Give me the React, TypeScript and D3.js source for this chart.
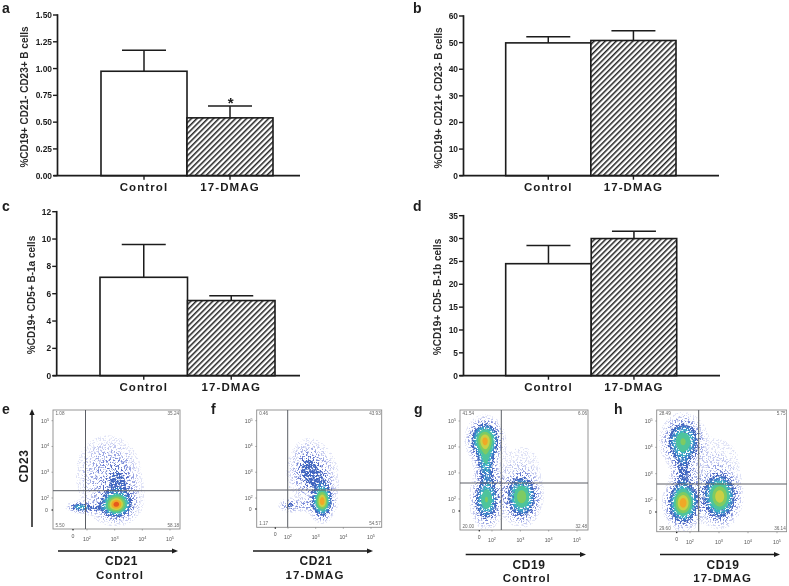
import React from "react";
import * as d3 from "d3";

const barCategories = ["Control", "17-DMAG"];

const aTicks = [0, 0.25, 0.5, 0.75, 1, 1.25, 1.5];
const aValues = [0.975, 0.54];
const aErrorTops = [1.17, 0.65];

const bTicks = [0, 10, 20, 30, 40, 50, 60];
const bValues = [49.9, 50.8];
const bErrorTops = [52.2, 54.5];

const cTicks = [0, 2, 4, 6, 8, 10, 12];
const cValues = [7.2, 5.5];
const cErrorTops = [9.6, 5.85];

const dTicks = [0, 5, 10, 15, 20, 25, 30, 35];
const dValues = [24.5, 30];
const dErrorTops = [28.5, 31.6];

// [x decade, y decade, sd x, sd y, peak density]
type Blob = number[];
const eBlobs: Blob[] = [
  [3.06, 1.75, 0.26, 0.24, 0.85],
  [1.75, 1.65, 0.2, 0.09, 0.34],
  [2.35, 1.6, 0.42, 0.1, 0.1],
  [2.75, 3.0, 0.58, 0.72, 0.085],
  [3.2, 2.5, 0.3, 0.55, 0.1],
  [3.0, 1.9, 0.55, 0.5, 0.06],
];
const fBlobs: Blob[] = [
  [3.24, 1.88, 0.17, 0.3, 0.8],
  [2.7, 1.72, 0.5, 0.12, 0.07],
  [2.05, 1.7, 0.15, 0.12, 0.13],
  [2.72, 3.1, 0.28, 0.48, 0.15],
  [3.2, 2.5, 0.25, 0.5, 0.1],
  [2.9, 2.9, 0.55, 0.75, 0.04],
];
const gBlobs: Blob[] = [
  [1.75, 4.27, 0.25, 0.34, 0.78],
  [1.78, 3.5, 0.17, 0.4, 0.36],
  [1.8, 1.96, 0.22, 0.42, 0.52],
  [3.05, 2.08, 0.27, 0.42, 0.6],
  [1.85, 2.8, 0.2, 0.35, 0.09],
  [2.4, 2.4, 0.45, 0.6, 0.035],
  [3.1, 3.2, 0.5, 0.7, 0.022],
];
const hBlobs: Blob[] = [
  [1.76, 4.24, 0.3, 0.4, 0.52],
  [1.76, 3.15, 0.2, 0.55, 0.16],
  [1.76, 1.88, 0.25, 0.38, 0.85],
  [3.03, 2.13, 0.28, 0.43, 0.75],
  [2.4, 2.3, 0.4, 0.6, 0.04],
  [2.9, 3.4, 0.6, 0.7, 0.028],
];

const eQuadrants = ["1.08", "35.24", "5.50", "58.18"];
const fQuadrants = ["0.46", "43.93", "1.17", "54.57"];
const gQuadrants = ["41.54", "6.06", "20.00", "32.48"];
const hQuadrants = ["28.49", "5.75", "29.60", "36.14"];

const decadeTicks = [2, 3, 4, 5];
const densityLevels = [0.012, 0.025, 0.045, 0.07, 0.1, 0.14, 0.2, 0.28, 0.38, 0.52, 0.66, 0.78, 0.9];
const densityColors = ["#dfe2f6", "#c0c6ee", "#98a4e2", "#7486d6", "#4f68c4", "#3f66c0", "#3a86c8", "#3cb0c4", "#4ec49c", "#7ecb62", "#cbd044", "#f0a828", "#e6581e"];

const FONT = "'Liberation Sans', Arial, sans-serif";
const INK = "#1c1c1c";

type BarProps = {
  letter: string; lx: number; ly: number; title: string; ticks: number[]; values: number[]; tops: number[];
  axisX: number; top: number; zero: number; b0: number; b2: number; end: number; titleX: number; titleY: number; fmt: (d: number) => string;
};

function BarPanel(p: BarProps) {
  const y = d3.scaleLinear().domain([p.ticks[0], p.ticks[p.ticks.length - 1]]).range([p.zero, p.top]);
  const x = d3.scaleBand<string>().domain(barCategories).range([p.b0, p.b2]);
  const bw = x.bandwidth();
  return (
    <g fontFamily={FONT} fill={INK}>
      <text x={p.lx} y={p.ly} fontSize={14} fontWeight="bold">{p.letter}</text>
      {barCategories.map((c, i) => {
        const bx = x(c)!;
        const cx = bx + bw / 2;
        return (
          <g key={c}>
            <line x1={cx} x2={cx} y1={y(p.values[i])} y2={y(p.tops[i])} stroke={INK} strokeWidth={1.5} />
            <line x1={cx - 22} x2={cx + 22} y1={y(p.tops[i])} y2={y(p.tops[i])} stroke={INK} strokeWidth={1.5} />
            <rect x={bx} y={y(p.values[i])} width={bw} height={p.zero - y(p.values[i])} fill={i === 0 ? "#fff" : "url(#hatch)"} stroke={INK} strokeWidth={1.6} />
            <line x1={cx} x2={cx} y1={p.zero} y2={p.zero + 4} stroke={INK} strokeWidth={1.4} />
            <text x={cx} y={p.zero + 15} fontSize={11.5} fontWeight="bold" letterSpacing={1.1} textAnchor="middle">{c}</text>
          </g>
        );
      })}
      <line x1={p.axisX} x2={p.axisX} y1={p.top - 0.8} y2={p.zero} stroke={INK} strokeWidth={1.7} />
      <line x1={p.axisX - 4} x2={p.end} y1={p.zero} y2={p.zero} stroke={INK} strokeWidth={1.7} />
      {p.ticks.map((t) => (
        <g key={t}>
          <line x1={p.axisX - 4.5} x2={p.axisX} y1={y(t)} y2={y(t)} stroke={INK} strokeWidth={1.4} />
          <text x={p.axisX - 5.5} y={y(t) + 3} fontSize={8.4} fontWeight="bold" textAnchor="end">{p.fmt(t)}</text>
        </g>
      ))}
      <text transform={`translate(${p.titleX},${p.titleY}) rotate(-90)`} fontSize={10} fontWeight="bold" textAnchor="middle" fill="#2a2a2a">{p.title}</text>
    </g>
  );
}

type FlowProps = {
  letter: string; lx: number; blobs: Blob[]; quads: string[]; box: number[]; gate: number[];
  xRef: number[]; yRef: number[]; zeroX: number; zeroY: number; marker: string; cond: string;
  arrowY: number; arrowX: number[]; lab1: number[]; lab2: number[];
};

function FlowPanel(p: FlowProps) {
  const [x0, x1, y0, y1] = p.box;
  const xs = d3.scaleLinear().domain([2, 5]).range(p.xRef);
  const ys = d3.scaleLinear().domain([2, 5]).range(p.yRef);
  const w = Math.round(x1 - x0), h = Math.round(y1 - y0);
  const grid = new Float64Array(w * h);
  for (let j = 0; j < h; j++) {
    const dy = ys.invert(y0 + j + 0.5);
    for (let i = 0; i < w; i++) {
      const dx = xs.invert(x0 + i + 0.5);
      let v = 0;
      for (const [bx, by, sx, sy, a] of p.blobs) {
        v += a * Math.exp(-0.5 * (((dx - bx) / sx) ** 2 + ((dy - by) / sy) ** 2));
      }
      grid[j * w + i] = v;
    }
  }
  const contours = d3.contours().size([w, h]).thresholds(densityLevels)(Array.from(grid));
  const path = d3.geoPath();
  const q = { fontSize: 4.6, fill: "#666" };
  const layer = (from: number, to: number) =>
    contours.slice(from, to).map((c, i) => <path key={i} d={path(c as any) ?? ""} fill={densityColors[i + from]} />);
  return (
    <g fontFamily={FONT}>
      <text x={p.lx} y={414} fontSize={14} fontWeight="bold" fill={INK}>{p.letter}</text>
      <rect x={x0} y={y0} width={x1 - x0} height={y1 - y0} fill="#fff" />
      <g transform={`translate(${x0},${y0})`}>
        <g filter="url(#speckle)">{layer(0, 5)}</g>
        <g filter="url(#speckle2)">{layer(5, 8)}</g>
        {layer(8, densityLevels.length)}
      </g>
      <rect x={x0} y={y0} width={x1 - x0} height={y1 - y0} fill="none" stroke="#8a8a8a" strokeWidth={0.9} />
      <line x1={p.gate[0]} x2={p.gate[0]} y1={y0} y2={y1} stroke="#5c5f66" strokeWidth={1} />
      <line x1={x0} x2={x1} y1={p.gate[1]} y2={p.gate[1]} stroke="#5c5f66" strokeWidth={1} />
      <text x={x0 + 2.5} y={y0 + 4.5} {...q}>{p.quads[0]}</text>
      <text x={x1 - 1} y={y0 + 4.5} textAnchor="end" {...q}>{p.quads[1]}</text>
      <text x={x0 + 2.5} y={y1 - 2} {...q}>{p.quads[2]}</text>
      <text x={x1 - 1} y={y1 - 2} textAnchor="end" {...q}>{p.quads[3]}</text>
      {decadeTicks.map((t) => (
        <g key={t} fill="#555">
          <line x1={xs(t)} x2={xs(t)} y1={y1} y2={y1 + 1.5} stroke="#777" strokeWidth={0.6} />
          <line x1={x0 - 1.5} x2={x0} y1={ys(t)} y2={ys(t)} stroke="#777" strokeWidth={0.6} />
          <text x={xs(t)} y={y1 + 12} fontSize={5.2} textAnchor="middle">10<tspan dy={-2} fontSize={3.8}>{t}</tspan></text>
          <text x={x0 - 4} y={ys(t) + 2} fontSize={5.2} textAnchor="end">10<tspan dy={-2} fontSize={3.8}>{t}</tspan></text>
        </g>
      ))}
      <circle cx={p.zeroX} cy={y1 + 0.8} r={0.8} fill="#222" />
      <circle cx={x0 - 0.8} cy={p.zeroY} r={0.8} fill="#222" />
      <text x={p.zeroX} y={y1 + 9} fontSize={5.2} textAnchor="middle" fill="#555">0</text>
      <text x={x0 - 5} y={p.zeroY + 2} fontSize={5.2} textAnchor="end" fill="#555">0</text>
      <line x1={p.arrowX[0]} x2={p.arrowX[1] - 4} y1={p.arrowY} y2={p.arrowY} stroke={INK} strokeWidth={1.5} />
      <path d={`M${p.arrowX[1]},${p.arrowY} l-6,-2.6 v5.2 z`} fill={INK} />
      <text x={p.lab1[0]} y={p.lab1[1]} fontSize={12} fontWeight="bold" letterSpacing={0.6} textAnchor="middle" fill={INK}>{p.marker}</text>
      <text x={p.lab2[0]} y={p.lab2[1]} fontSize={11.5} fontWeight="bold" letterSpacing={1} textAnchor="middle" fill={INK}>{p.cond}</text>
    </g>
  );
}

export default function App() {
  const f2 = d3.format(".2f");
  const f0 = d3.format("d");
  return (
    <svg width={789} height={586} style={{ position: "absolute", left: 0, top: 0, background: "#fff" }}>
      <defs>
        <pattern id="hatch" width={3.9} height={3.9} patternUnits="userSpaceOnUse" patternTransform="rotate(45)">
          <rect width={3.9} height={3.9} fill="#fff" />
          <rect width={1.5} height={3.9} fill="#222" />
        </pattern>
        <filter id="speckle" x="-5%" y="-5%" width="110%" height="110%">
          <feTurbulence type="fractalNoise" baseFrequency={0.6} numOctaves={2} seed={4} result="n" />
          <feColorMatrix in="n" type="matrix" values="0 0 0 0 0  0 0 0 0 0  0 0 0 0 0  9 0 0 0 -4.6" result="m" />
          <feComposite in="SourceGraphic" in2="m" operator="in" />
        </filter>
        <filter id="speckle2" x="-5%" y="-5%" width="110%" height="110%">
          <feTurbulence type="fractalNoise" baseFrequency={0.55} numOctaves={2} seed={11} result="n" />
          <feColorMatrix in="n" type="matrix" values="0 0 0 0 0  0 0 0 0 0  0 0 0 0 0  8 0 0 0 -3.2" result="m" />
          <feComposite in="SourceGraphic" in2="m" operator="in" />
        </filter>
        <filter id="soft" x="0" y="0" width="100%" height="100%">
          <feGaussianBlur stdDeviation={0.4} />
        </filter>
      </defs>
      <rect width={789} height={586} fill="#fff" />
      <g filter="url(#soft)">
        <BarPanel letter="a" lx={2} ly={13} title="%CD19+ CD21- CD23+ B cells" ticks={aTicks} values={aValues} tops={aErrorTops} axisX={57.5} top={15} zero={175.7} b0={101} b2={273} end={300} titleX={28} titleY={97} fmt={f2} />
        <BarPanel letter="b" lx={413} ly={13} title="%CD19+ CD21+ CD23-  B cells" ticks={bTicks} values={bValues} tops={bErrorTops} axisX={463.5} top={16} zero={175.7} b0={505.7} b2={676} end={719} titleX={442} titleY={98} fmt={f0} />
        <BarPanel letter="c" lx={2} ly={211} title="%CD19+ CD5+ B-1a cells" ticks={cTicks} values={cValues} tops={cErrorTops} axisX={56.7} top={211.7} zero={375.7} b0={100} b2={275} end={300} titleX={35} titleY={295} fmt={f0} />
        <BarPanel letter="d" lx={413} ly={211} title="%CD19+ CD5- B-1b cells" ticks={dTicks} values={dValues} tops={dErrorTops} axisX={463.5} top={215.7} zero={375.7} b0={505.7} b2={676.7} end={720} titleX={441} titleY={297} fmt={f0} />
        <text x={230.7} y={108} fontFamily={FONT} fontSize={15} fontWeight="bold" fill={INK} textAnchor="middle">*</text>

        <FlowPanel letter="e" lx={2} blobs={eBlobs} quads={eQuadrants} box={[53, 180, 410, 529]} gate={[85.5, 490.7]} xRef={[87, 170]} yRef={[498, 420.7]} zeroX={73} zeroY={510} marker="CD21" cond="Control" arrowY={551} arrowX={[58, 178]} lab1={[121.5, 565]} lab2={[120, 578.5]} />
        <FlowPanel letter="f" lx={211} blobs={fBlobs} quads={fQuadrants} box={[256.7, 381.7, 410, 527.3]} gate={[287.7, 490]} xRef={[288, 371]} yRef={[498, 420.7]} zeroX={275.3} zeroY={509} marker="CD21" cond="17-DMAG" arrowY={551} arrowX={[253, 373]} lab1={[316, 565]} lab2={[315, 578.5]} />
        <FlowPanel letter="g" lx={414} blobs={gBlobs} quads={gQuadrants} box={[460, 588, 410, 530]} gate={[501.3, 483]} xRef={[492, 577]} yRef={[499, 421]} zeroX={479.3} zeroY={511} marker="CD19" cond="Control" arrowY={554.5} arrowX={[465.7, 586]} lab1={[529, 568.5]} lab2={[526.7, 582]} />
        <FlowPanel letter="h" lx={614} blobs={hBlobs} quads={hQuadrants} box={[656.7, 786.7, 410, 531.7]} gate={[698.7, 484]} xRef={[690, 777]} yRef={[500, 421]} zeroX={676.7} zeroY={512} marker="CD19" cond="17-DMAG" arrowY={554.5} arrowX={[660, 780]} lab1={[723, 568.5]} lab2={[722.7, 582]} />

        <line x1={32} x2={32} y1={527} y2={413} stroke={INK} strokeWidth={1.5} />
        <path d="M32,409 l-2.6,6 h5.2 z" fill={INK} />
        <text transform="translate(27.5,466) rotate(-90)" fontFamily={FONT} fontSize={12} fontWeight="bold" letterSpacing={0.6} textAnchor="middle" fill={INK}>CD23</text>
      </g>
    </svg>
  );
}
